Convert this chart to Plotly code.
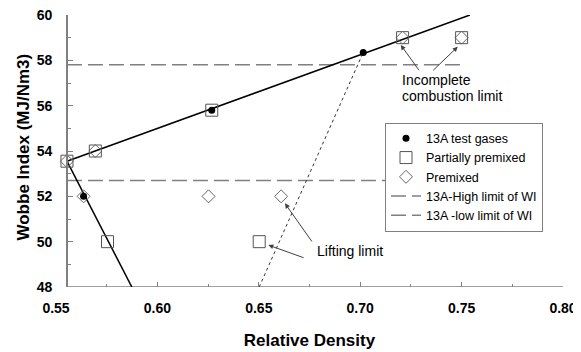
import plotly.graph_objects as go

# ---------------- data ----------------
test_x = [0.5636, 0.6268, 0.7015]
test_y = [52.0, 55.8, 58.35]

partial_x = [0.5554, 0.5694, 0.5754, 0.6268, 0.6502, 0.7209, 0.7500]
partial_y = [53.55, 54.0, 50.0, 55.8, 50.0, 59.0, 59.0]

premixed_x = [0.5554, 0.5636, 0.5694, 0.6252, 0.6610, 0.7209, 0.7500]
premixed_y = [53.55, 52.0, 54.0, 52.0, 52.0, 59.0, 59.0]

upper_x = [0.5554, 0.7541]
upper_y = [53.55, 60.0]
lower_x = [0.5554, 0.5874]
lower_y = [53.55, 48.0]
lifting_x = [0.6502, 0.7015]
lifting_y = [48.0, 58.35]

limit_x = [0.5554, 0.75]
high_wi = 57.8
low_wi = 52.7

x_ticks = [0.55, 0.60, 0.65, 0.70, 0.75, 0.80]
x_tick_labels = ["0.55", "0.60", "0.65", "0.70", "0.75", "0.80"]
y_ticks = [48, 50, 52, 54, 56, 58, 60]
YAXIS_CROSS = 0.5554
X_MIN, X_MAX = 0.55, 0.80
Y_MIN, Y_MAX = 48, 60

FONT = "Liberation Sans, Arial, sans-serif"
GRAY = "#808080"

# page body adds an 8px offset; figure is sized to fit the window
W, H = 573, 344
ML, MT, MR, MB = 48, 7, 18, 65
PW, PH = W - ML - MR, H - MT - MB

fig = go.Figure()

# limit lines
fig.add_trace(go.Scatter(x=limit_x, y=[high_wi, high_wi], mode="lines",
                         line=dict(color=GRAY, width=1.5, dash="15px,6px"),
                         name="13A-High limit of WI", legendrank=4))
fig.add_trace(go.Scatter(x=limit_x, y=[low_wi, low_wi], mode="lines",
                         line=dict(color=GRAY, width=1.5, dash="15px,6px"),
                         name="13A -low limit of WI", legendrank=5))

# fitted lines
fig.add_trace(go.Scatter(x=upper_x, y=upper_y, mode="lines",
                         line=dict(color="black", width=1.5), showlegend=False))
fig.add_trace(go.Scatter(x=lower_x, y=lower_y, mode="lines",
                         line=dict(color="black", width=1.5), showlegend=False))
fig.add_trace(go.Scatter(x=lifting_x, y=lifting_y, mode="lines",
                         line=dict(color="#333333", width=1, dash="dot"), showlegend=False))

# markers
fig.add_trace(go.Scatter(x=partial_x, y=partial_y, mode="markers",
                         marker=dict(symbol="square-open", size=12, color="#555555",
                                     line=dict(width=1)),
                         name="Partially premixed", legendrank=2))
fig.add_trace(go.Scatter(x=premixed_x, y=premixed_y, mode="markers",
                         marker=dict(symbol="diamond-open", size=10, color="#666666",
                                     line=dict(width=1)),
                         name="Premixed", legendrank=3))
fig.add_trace(go.Scatter(x=test_x, y=test_y, mode="markers",
                         marker=dict(symbol="circle", size=7, color="black"),
                         name="13A test gases", legendrank=1))

# x-axis line starting at the y-axis crossing
fig.add_shape(type="line", xref="x", yref="y", x0=YAXIS_CROSS, x1=X_MAX, y0=Y_MIN, y1=Y_MIN,
              line=dict(color=GRAY, width=1.5), layer="below")

# annotations
arrow_style = dict(showarrow=True, arrowhead=2, arrowsize=1, arrowwidth=1,
                   arrowcolor="#404040", axref="x", ayref="y", text="")
fig.add_annotation(x=0.7200, y=58.68, ax=0.7295, ay=57.50, **arrow_style)
fig.add_annotation(x=0.7481, y=58.60, ax=0.7353, ay=57.50, **arrow_style)
fig.add_annotation(x=0.6629, y=51.69, ax=0.6767, ay=49.94, **arrow_style)
fig.add_annotation(x=0.6547, y=49.85, ax=0.6728, ay=49.27, **arrow_style)

txt = dict(showarrow=False, xanchor="left", yanchor="middle",
           font=dict(family=FONT, size=14, color="black"))
fig.add_annotation(x=0.7196, y=57.12, text="Incomplete", **txt)
fig.add_annotation(x=0.7196, y=56.44, text="combustion limit", **txt)
fig.add_annotation(x=0.6777, y=49.59, text="Lifting limit", **txt)

# y-axis title
fig.add_annotation(xref="paper", yref="paper", x=(15 - ML) / PW, y=(H - MB - 139.5) / PH,
                   text="<b>Wobbe Index (MJ/Nm3)</b>", textangle=-90, showarrow=False,
                   xanchor="center", yanchor="middle",
                   font=dict(family=FONT, size=17, color="black"))

fig.update_layout(
    width=W, height=H,
    margin=dict(l=ML, r=MR, t=MT, b=MB, autoexpand=False),
    plot_bgcolor="white", paper_bgcolor="white",
    font=dict(family=FONT, color="black"),
    legend=dict(x=(377 - ML) / PW, y=(H - MB - 114.7) / PH, xanchor="left", yanchor="top",
                bgcolor="white", bordercolor=GRAY, borderwidth=1,
                font=dict(family=FONT, size=12.5, color="black"),
                tracegroupgap=0),
    xaxis=dict(range=[X_MIN, X_MAX], tickvals=x_ticks, ticktext=x_tick_labels,
               automargin=False, ticklabeloverflow="allow",
               showgrid=False, zeroline=False, showline=False,
               ticks="inside", ticklen=5, tickcolor=GRAY, tickwidth=1,
               minor=dict(ticks="inside", ticklen=3, tickcolor=GRAY, dtick=0.025, tick0=0.55),
               tickfont=dict(family=FONT, size=14, color="black", weight="bold"),
               ticklabelstandoff=11,
               title=dict(text="<b>Relative Density</b>", standoff=19,
                          font=dict(family=FONT, size=17, color="black"))),
    yaxis=dict(range=[Y_MIN, Y_MAX], tickvals=y_ticks,
               anchor="free", position=(YAXIS_CROSS - X_MIN) / (X_MAX - X_MIN),
               automargin=False, ticklabeloverflow="allow",
               showgrid=False, zeroline=False, showline=True, linecolor=GRAY, linewidth=1.5,
               ticks="inside", ticklen=5, tickcolor=GRAY, tickwidth=1,
               minor=dict(ticks="inside", ticklen=3, tickcolor=GRAY, dtick=1),
               tickfont=dict(family=FONT, size=14, color="black", weight="bold"),
               ticklabelstandoff=11),
)

fig.write_html("out.html")
